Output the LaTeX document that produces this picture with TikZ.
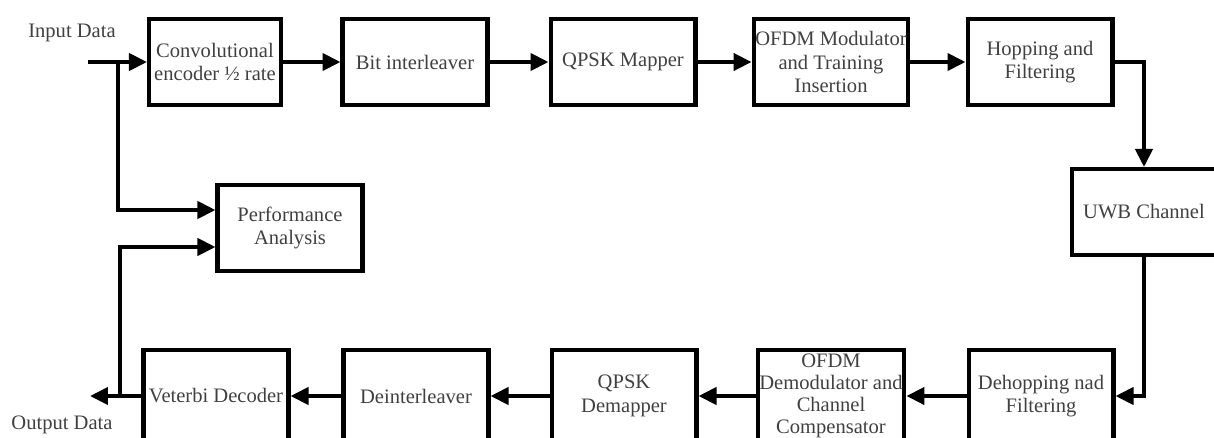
\documentclass[tikz,border=0pt]{standalone}
\usepackage{fontspec}
\setmainfont{Liberation Serif}
\usetikzlibrary{arrows.meta}

\begin{document}
\begin{tikzpicture}[
                    x=0.02cm, y=-0.02cm,
                    ->,
                    >={Triangle[length=0.36cm,width=0.34cm]},
                    line width=2.3pt,
                    block/.style={draw, rectangle, minimum width=2.9cm, minimum height=1.72cm,
                                  align=center, inner sep=1pt, text=black!75,
                                  font=\fontsize{11.7}{13.5}\selectfont},
                    lowblock/.style={block, minimum height=1.84cm},
                    tag/.style={text=black!75, font=\fontsize{11.7}{13.5}\selectfont}
                ]
                \useasboundingbox (0,0) rectangle (1214,437);

                % transmitter
                \node (conv) [block, minimum width=2.64cm] at (215,62) {Convolutional\\encoder ½ rate} ;
                \node (bitint) [block] at (415,62) {Bit interleaver} ;
                \node (qmap) [block] at (623,62) {QPSK Mapper} ;
                \node (ofdmmod) [block] at (831,62) {OFDM Modulator\\and Training\\Insertion} ;
                \node (hop) [block] at (1040,62) {Hopping and\\Filtering} ;

                \node (uwb) [block] at (1144,212) {UWB Channel} ;

                % receiver
                \node (dehop) [lowblock] at (1041,396) {Dehopping nad\\Filtering} ;
                \node (ofdmdem) [lowblock, inner ysep=0pt, font=\fontsize{11.7}{12.6}\selectfont] at (831,396) {OFDM\\Demodulator and\\Channel\\Compensator} ;
                \node (qdemap) [lowblock] at (624,396) {QPSK\\Demapper} ;
                \node (deint) [lowblock] at (416,396) {Deinterleaver} ;
                \node (vit) [lowblock] at (216,396) {Veterbi Decoder} ;

                \node (perf) [block] at (290,228) {Performance\\Analysis} ;

                \node (inlabel) [tag] at (72,33) {Input Data} ;
                \node (outlabel) [tag] at (62,425) {Output Data} ;

                \coordinate (datain) at (88,62) ;
                \coordinate (tapin) at (118,62) ;
                \coordinate (tapout) at (120,396) ;
                \coordinate (dataout) at (90,396) ;

                \path
                (datain) edge (conv)
                (conv) edge (bitint)
                (bitint) edge (qmap)
                (qmap) edge (ofdmmod)
                (ofdmmod) edge (hop)
                (dehop) edge (ofdmdem)
                (ofdmdem) edge (qdemap)
                (qdemap) edge (deint)
                (deint) edge (vit)
                (vit) edge (dataout)
                ;

                \draw (hop.east) -| (uwb.north) ;
                \draw (uwb.south) |- (dehop.east) ;
                \draw (tapin) |- ([yshift=0.36cm]perf.west) ;
                \draw (tapout) |- ([yshift=-0.38cm]perf.west) ;
            \end{tikzpicture}
\end{document}
